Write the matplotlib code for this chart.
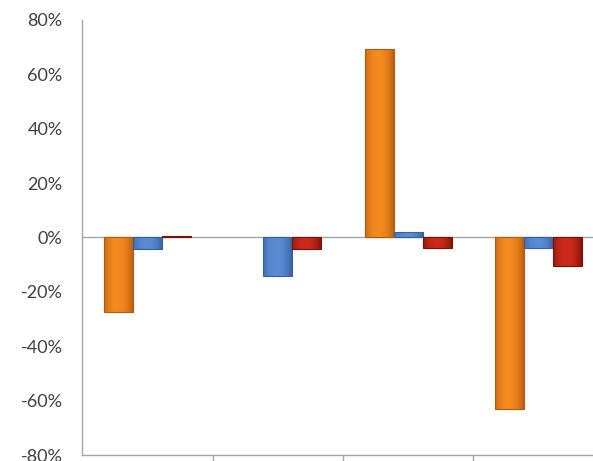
import numpy as np
import matplotlib.pyplot as plt
from matplotlib.colors import to_rgb

# data (percent)
categories = ["A", "B", "C", "D"]
orange_vals = [-27.3, 0.0, 69.2, -63.0]
blue_vals = [-4.4, -14.0, 2.0, -3.7]
red_vals = [0.5, -4.4, -4.0, -10.3]
yticks = [-80, -60, -40, -20, 0, 20, 40, 60, 80]

series = [(orange_vals, "#f48a20", "#b5590c"),
          (blue_vals, "#5b8bd4", "#34609e"),
          (red_vals, "#cc2a1c", "#7a1106")]

fig = plt.figure(figsize=(5.93, 4.61), dpi=100)
# plot area runs a little past the right and bottom edge, like the cropped original
ax = fig.add_axes([82 / 593, 6 / 461, 522 / 593, 435 / 461])

x = np.arange(len(categories))
w = 0.223


def shade(ax, bar, base, dark):
    # soft bevel: lighter middle, darker sides
    c1 = np.array(to_rgb(base))
    c2 = np.array(to_rgb(dark))
    t = np.linspace(0, 1, 64)
    prof = np.abs(t - 0.45) / 0.55
    prof = prof ** 2.2
    row = c1[None, :] * (1 - prof[:, None]) + c2[None, :] * prof[:, None]
    img = np.tile(row[None, :, :], (2, 1, 1))
    x0, y0 = bar.get_x(), bar.get_y()
    bw, bh = bar.get_width(), bar.get_height()
    im = ax.imshow(img, extent=(x0, x0 + bw, y0, y0 + bh), aspect="auto",
                   zorder=2, interpolation="bilinear")
    im.set_clip_path(bar)


for i, (vals, base, dark) in enumerate(series):
    bars = ax.bar(x + (i - 1) * w, vals, w, color=base, edgecolor=dark,
                  linewidth=0.8, zorder=3)
    for b, v in zip(bars, vals):
        b.set_facecolor("none")
        if v == 0:
            b.set_linewidth(0)
            continue
        shade(ax, b, base, dark)

ax.axhline(0, color="#a6a6a6", linewidth=1.0, zorder=1)

ax.set_xlim(-0.5, len(categories) - 0.5)
ax.set_ylim(-80, 80)
ax.set_yticks(yticks)
ax.set_yticklabels([f"{v}%" for v in yticks])
ax.set_xticks(x[:-1] + 0.5)
ax.set_xticklabels([])
ax.tick_params(axis="x", direction="out", length=7, color="#a6a6a6", width=1)
ax.tick_params(axis="y", length=0, pad=14, labelsize=13, labelcolor="#404040")
for lab in ax.get_yticklabels():
    lab.set_fontfamily("Lato")

for s in ["top", "right"]:
    ax.spines[s].set_visible(False)
for s in ["left", "bottom"]:
    ax.spines[s].set_color("#a6a6a6")
    ax.spines[s].set_linewidth(1.0)

fig.savefig("out.png", dpi=100)
